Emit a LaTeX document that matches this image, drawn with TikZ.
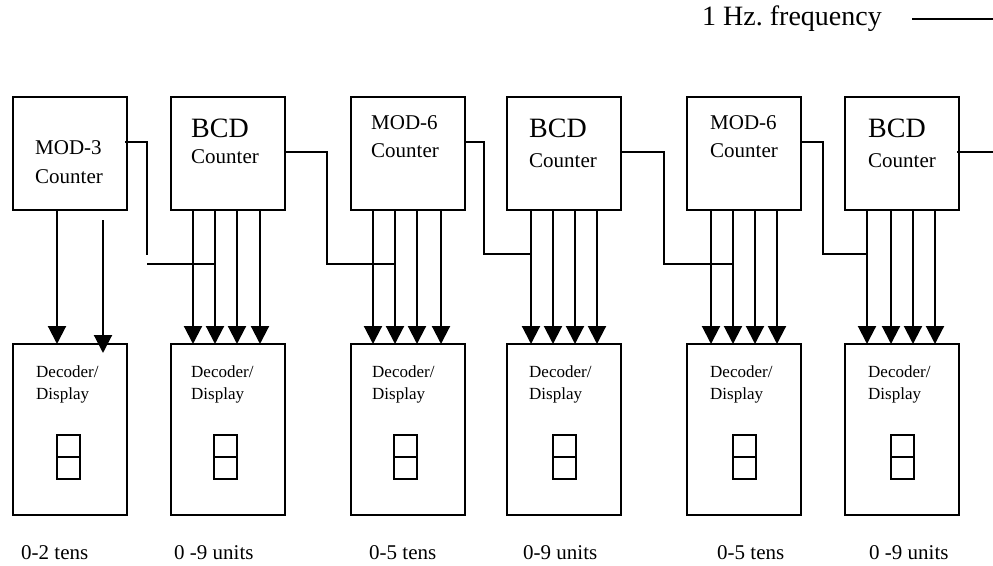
\documentclass[tikz,border=0pt]{standalone}
\usepackage{fontspec}
\setmainfont{Liberation Serif}
\usetikzlibrary{arrows.meta}
\begin{document}
\begin{tikzpicture}[x=1pt,y=-1pt,
  wire/.style={line width=2.1pt},
  arr/.style={wire,-{Triangle[length=18pt,width=18pt]}},
  seg/.style={line width=2pt},
  cbox/.style={draw,line width=2.1pt,minimum width=114pt,minimum height=113pt,inner sep=0pt,outer sep=0pt},
  dbox/.style={draw,line width=2.1pt,minimum width=114pt,minimum height=171pt,inner sep=0pt,outer sep=0pt},
  big/.style={font=\fontsize{28}{28}\selectfont,anchor=base west,inner sep=0pt},
  mid/.style={font=\fontsize{21}{21}\selectfont,anchor=base west,inner sep=0pt},
  small/.style={font=\fontsize{17}{17}\selectfont,anchor=base west,inner sep=0pt},
]
\useasboundingbox (0,0) rectangle (993,565);

% title
\node[big] (hz) at (702,25) {1 Hz.\ frequency};
\coordinate (hzs) at (912,19);
\coordinate (hze) at (993,19);
\draw[wire] (hzs) -- (hze);

% counter and decoder boxes
\foreach \n/\x in {1/70,2/228,3/408,4/564,5/744,6/902} {
  \node[cbox] (c\n) at (\x,153.5) {};
  \node[dbox] (d\n) at (\x,429.5) {};
}

% counter texts
\node[mid] (t1a) at (35,154) {MOD-3};
\node[mid] (t1b) at (35,183) {Counter};
\node[big] (t2a) at (191,137) {BCD};
\node[mid] (t2b) at (191,163) {Counter};
\node[mid] (t3a) at (371,129) {MOD-6};
\node[mid] (t3b) at (371,157) {Counter};
\node[big] (t4a) at (529,137) {BCD};
\node[mid] (t4b) at (529,167) {Counter};
\node[mid] (t5a) at (710,129) {MOD-6};
\node[mid] (t5b) at (710,157) {Counter};
\node[big] (t6a) at (868,137) {BCD};
\node[mid] (t6b) at (868,167) {Counter};

% decoder texts and displays
\foreach \n/\x/\o in {1/36/44,2/191/43,3/372/43,4/529/46,5/710/46,6/868/46} {
  \node[small] (dt\n) at (\x,377) {Decoder/};
  \node[small] (dd\n) at (\x,399) {Display};
  \draw[seg] ([xshift=\o pt,yshift=-91pt]d\n.north west) rectangle +(23,44);
  \draw[seg] ([xshift=\o pt,yshift=-113pt]d\n.north west) -- +(23,0);
}

% range labels
\node[mid] (r1) at (21,559) {0-2 tens};
\node[mid] (r2) at (174,559) {0 -9 units};
\node[mid] (r3) at (369,559) {0-5 tens};
\node[mid] (r4) at (523,559) {0-9 units};
\node[mid] (r5) at (717,559) {0-5 tens};
\node[mid] (r6) at (869,559) {0 -9 units};

% outputs counter -> decoder
\draw[arr] ([xshift=44pt]c1.south west) -- ([xshift=44pt]d1.north west);
\draw[arr] ([xshift=90pt,yshift=-10pt]c1.south west) -- ([xshift=90pt,yshift=-9pt]d1.north west);
\foreach \n/\offs in {2/{22,44,66,89},3/{22,44,66,90},4/{24,46,68,90},5/{24,46,68,90},6/{22,46,68,90}} {
  \foreach \o in \offs {
    \draw[arr] ([xshift=\o pt]c\n.south west) -- ([xshift=\o pt]d\n.north west);
  }
}

% carry connections
\draw[wire] ([xshift=-2pt,yshift=11.5pt]c1.east) -| (147,255);
\draw[wire] (147,264) -- ([xshift=44pt,yshift=-54pt]c2.south west);
\draw[wire] ([yshift=1.5pt]c2.east) -| (327,264) -- ([xshift=44pt,yshift=-54pt]c3.south west);
\draw[wire] ([yshift=11.5pt]c3.east) -| (484,254) -- ([xshift=24pt,yshift=-44pt]c4.south west);
\draw[wire] ([yshift=1.5pt]c4.east) -| (664,264) -- ([xshift=46pt,yshift=-54pt]c5.south west);
\draw[wire] ([yshift=11.5pt]c5.east) -| (823,254) -- ([xshift=22pt,yshift=-44pt]c6.south west);
\coordinate (out) at (993,152);
\draw[wire] ([xshift=-2pt,yshift=1.5pt]c6.east) -- (out);
\end{tikzpicture}
\end{document}
